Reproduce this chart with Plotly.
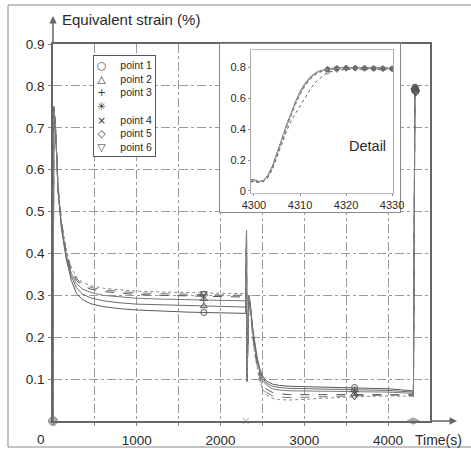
import plotly.graph_objects as go

# ---------------- data ----------------
times = [0, 10, 30, 60, 100, 160, 220, 280, 350, 450, 600, 800, 1000, 1300, 1600, 1800, 2000, 2300,
         2310, 2315, 2340, 2360, 2380, 2410, 2440, 2470, 2500, 2550, 2620, 2700, 2820, 3000, 3300, 3600, 4000, 4300,
         4301, 4302, 4303, 4304, 4305, 4306, 4307, 4308, 4309, 4310, 4311, 4312, 4313, 4314, 4315, 4316,
         4318, 4320, 4322, 4324, 4326, 4328, 4330]

point_1 = [0, 0.75, 0.70, 0.55, 0.46, 0.385, 0.335, 0.305, 0.290, 0.280, 0.273, 0.268, 0.265, 0.262, 0.260, 0.259, 0.258, 0.257,
           0.456, 0.095, 0.300, 0.270, 0.225, 0.180, 0.148, 0.124, 0.108, 0.095, 0.088, 0.085, 0.083, 0.082, 0.081, 0.080, 0.077, 0.072,
           0.062, 0.066, 0.100, 0.160, 0.240, 0.330, 0.420, 0.500, 0.575, 0.640, 0.690, 0.728, 0.755, 0.772, 0.783, 0.789,
           0.795, 0.797, 0.797, 0.796, 0.795, 0.794, 0.793]
point_2 = [0, 0.75, 0.70, 0.55, 0.465, 0.390, 0.345, 0.318, 0.303, 0.294, 0.287, 0.282, 0.279, 0.277, 0.275, 0.274, 0.273, 0.272,
           0.456, 0.095, 0.300, 0.268, 0.222, 0.176, 0.143, 0.119, 0.103, 0.090, 0.083, 0.080, 0.078, 0.077, 0.076, 0.075, 0.073, 0.069,
           0.060, 0.064, 0.095, 0.155, 0.235, 0.325, 0.415, 0.495, 0.570, 0.635, 0.685, 0.724, 0.752, 0.770, 0.781, 0.787,
           0.793, 0.795, 0.795, 0.794, 0.793, 0.792, 0.791]
point_3 = [0, 0.75, 0.70, 0.555, 0.47, 0.395, 0.352, 0.328, 0.315, 0.307, 0.300, 0.296, 0.293, 0.291, 0.289, 0.288, 0.288, 0.287,
           0.456, 0.095, 0.300, 0.266, 0.218, 0.172, 0.138, 0.114, 0.098, 0.085, 0.077, 0.074, 0.072, 0.071, 0.071, 0.070, 0.069, 0.066,
           0.059, 0.063, 0.092, 0.150, 0.230, 0.320, 0.410, 0.490, 0.565, 0.630, 0.680, 0.720, 0.748, 0.767, 0.779, 0.786,
           0.792, 0.794, 0.794, 0.793, 0.792, 0.791, 0.790]
point_4 = [0, 0.75, 0.705, 0.56, 0.475, 0.400, 0.358, 0.336, 0.323, 0.315, 0.309, 0.305, 0.302, 0.300, 0.298, 0.297, 0.297, 0.296,
           0.456, 0.095, 0.300, 0.262, 0.213, 0.165, 0.131, 0.106, 0.090, 0.076, 0.068, 0.065, 0.063, 0.063, 0.063, 0.064, 0.064, 0.063,
           0.058, 0.062, 0.090, 0.148, 0.228, 0.316, 0.405, 0.485, 0.560, 0.625, 0.676, 0.716, 0.745, 0.764, 0.777, 0.784,
           0.790, 0.792, 0.792, 0.791, 0.790, 0.789, 0.788]
point_5 = [0, 0.75, 0.705, 0.56, 0.478, 0.403, 0.362, 0.340, 0.327, 0.319, 0.313, 0.309, 0.306, 0.304, 0.302, 0.301, 0.301, 0.300,
           0.456, 0.095, 0.300, 0.259, 0.209, 0.160, 0.125, 0.100, 0.083, 0.068, 0.060, 0.057, 0.056, 0.057, 0.059, 0.061, 0.062, 0.061,
           0.057, 0.061, 0.088, 0.145, 0.225, 0.312, 0.400, 0.480, 0.555, 0.620, 0.672, 0.712, 0.742, 0.762, 0.775, 0.783,
           0.789, 0.791, 0.791, 0.790, 0.789, 0.788, 0.787]
point_6 = [0, 0.75, 0.71, 0.565, 0.48, 0.405, 0.365, 0.344, 0.331, 0.323, 0.317, 0.313, 0.310, 0.308, 0.306, 0.305, 0.305, 0.304,
           0.456, 0.095, 0.300, 0.256, 0.205, 0.155, 0.120, 0.094, 0.077, 0.062, 0.054, 0.051, 0.050, 0.052, 0.055, 0.058, 0.060, 0.059,
           0.056, 0.060, 0.085, 0.140, 0.215, 0.300, 0.380, 0.450, 0.500, 0.550, 0.600, 0.645, 0.690, 0.720, 0.745, 0.765,
           0.778, 0.785, 0.787, 0.786, 0.785, 0.784, 0.783]

series_values = [point_1, point_2, point_3, point_4, point_5, point_6]
series_names = ["point 1", "point 2", "point 3", "point 4", "point 5", "point 6"]
series_symbols = ["circle-open", "triangle-up-open", "cross-thin-open", "x-thin-open", "diamond-open", "triangle-down-open"]
line_colors = ["#5a5a5a", "#6a6a6a", "#7a7a7a", "#555555", "#777777", "#888888"]
line_dashes = ["solid", "solid", "solid", "dash", "dash", "dot"]
inset_line_colors = ["#444444", "#9a9a9a", "#bbbbbb", "#555555", "#aaaaaa", "#666666"]

main_marker_times = [1800, 3600, 4320, 4330]
inset_marker_times = [4316, 4318, 4320, 4322, 4324, 4326, 4328, 4330]

event_times = [0, 2300, 4300]
event_values = [0, 0, 0]
event_symbols = ["circle", "x-thin-open", "diamond-wide"]

x_tick_vals = [0, 500, 1000, 1500, 2000, 2500, 3000, 3500, 4000]
x_tick_text = ["", "", "1000", "", "2000", "", "3000", "", "4000"]
y_tick_vals = [0, 0.1, 0.2, 0.3, 0.4, 0.5, 0.6, 0.7, 0.8, 0.9]
y_tick_text = ["", "0.1", "0.2", "0.3", "0.4", "0.5", "0.6", "0.7", "0.8", "0.9"]
inset_x_ticks = [4300, 4310, 4320, 4330]
inset_y_ticks = [0, 0.2, 0.4, 0.6, 0.8]
inset_y_text = ["0", "0.2", "0.4", "0.6", "0.8"]

legend_glyphs = ["○", "△", "+", "✳", "×", "◇", "▽"]
legend_labels = ["point 1", "point 2", "point 3", "\u00a0", "point 4", "point 5", "point 6"]

# ---------------- figure ----------------
W, H = 471, 450
ML, MR, MT, MB = 53, 41, 44, 29
PW, PH = W - ML - MR, H - MT - MB


def px_x(p):
    return (p - ML) / PW


def px_y(p):
    return (H - MB - p) / PH


FONT = "Liberation Sans, Arial, sans-serif"
TXT = "#2a2a2a"

fig = go.Figure()

for vals, name, sym, col, dash in zip(series_values, series_names, series_symbols, line_colors, line_dashes):
    fig.add_trace(go.Scatter(x=times, y=vals, mode="lines", name=name, showlegend=False,
                             line=dict(color=col, width=1, dash=dash), hoverinfo="skip"))
    mx = [t for t in times if t in main_marker_times]
    my = [v for t, v in zip(times, vals) if t in main_marker_times]
    fig.add_trace(go.Scatter(x=mx, y=my, mode="markers", showlegend=False, hoverinfo="skip",
                             marker=dict(symbol=sym, size=6, color="#555", line=dict(width=1, color="#555"))))

fig.add_trace(go.Scatter(x=event_times, y=event_values, mode="markers", showlegend=False,
                         cliponaxis=False, hoverinfo="skip",
                         marker=dict(symbol=event_symbols, size=[9, 6, 9], color="#888",
                                     line=dict(width=1, color="#777"))))

# dummy subplot providing the opaque inset frame
fig.add_trace(go.Scatter(x=[None], y=[None], xaxis="x2", yaxis="y2", showlegend=False, hoverinfo="skip"))

# inset (detail) subplot
for vals, sym, dash, icol in zip(series_values, series_symbols, line_dashes, inset_line_colors):
    fig.add_trace(go.Scatter(x=times, y=vals, mode="lines", xaxis="x3", yaxis="y3", showlegend=False,
                             hoverinfo="skip", line=dict(color=icol, width=1, dash="solid" if dash == "solid" else "dot")))
    mx = [t for t in times if t in inset_marker_times]
    my = [v for t, v in zip(times, vals) if t in inset_marker_times]
    fig.add_trace(go.Scatter(x=mx, y=my, mode="markers", xaxis="x3", yaxis="y3", showlegend=False,
                             hoverinfo="skip",
                             marker=dict(symbol=sym, size=4, color="#666", line=dict(width=0.8, color="#666"))))

grid = dict(showgrid=True, gridcolor="#9a9a9a", gridwidth=1, griddash="dashdot")

fig.update_layout(
    width=W, height=H,
    margin=dict(l=ML, r=MR, t=MT, b=MB, autoexpand=False),
    paper_bgcolor="white", plot_bgcolor="white",
    font=dict(family=FONT, color=TXT, size=13.5),
    showlegend=False,
    xaxis=dict(range=[0, 4500], tickvals=x_tick_vals, ticktext=x_tick_text, **grid, automargin=False,
               zeroline=False, showline=True, mirror=True, linecolor="#666", linewidth=1.5,
               ticks="outside", ticklen=3, tickcolor="#888", ticklabelstandoff=3,
               tickfont=dict(size=13.5, color=TXT)),
    yaxis=dict(range=[0, 0.9], tickvals=y_tick_vals, ticktext=y_tick_text, **grid, automargin=False,
               zeroline=False, showline=True, mirror=True, linecolor="#666", linewidth=1.5,
               ticks="outside", ticklen=3, tickcolor="#888", ticklabelstandoff=1,
               tickfont=dict(size=13.5, color=TXT)),
    xaxis2=dict(domain=[px_x(220), px_x(400)], anchor="y2", range=[0, 1], showgrid=False, automargin=False,
                zeroline=False, showticklabels=False, ticks="", showline=True, mirror=True,
                linecolor="#888", linewidth=1),
    yaxis2=dict(domain=[px_y(212), 1.0], anchor="x2", range=[0, 1], showgrid=False, automargin=False,
                zeroline=False, showticklabels=False, ticks="", showline=True, mirror=True,
                linecolor="#888", linewidth=1),
    xaxis3=dict(domain=[px_x(251), px_x(393)], anchor="y3", range=[4299.35, 4330.2], automargin=False,
                tickvals=inset_x_ticks, showgrid=False, zeroline=False, showline=True, mirror=True,
                linecolor="#bbbbbb", linewidth=1, ticks="outside", ticklen=2, tickcolor="#888",
                tickfont=dict(size=11, color=TXT)),
    yaxis3=dict(domain=[px_y(193), px_y(50)], anchor="x3", range=[-0.013, 0.91], automargin=False,
                tickvals=inset_y_ticks, ticktext=inset_y_text, showgrid=False, zeroline=False,
                showline=True, mirror=True, linecolor="#aaaaaa", linewidth=1,
                ticks="outside", ticklen=2, tickcolor="#888", tickfont=dict(size=11, color=TXT)),
)

# outer figure frame
fig.add_shape(type="rect", xref="paper", yref="paper",
              x0=px_x(8), x1=px_x(480), y0=px_y(447), y1=px_y(5),
              line=dict(color="#888", width=1), fillcolor="rgba(0,0,0,0)", layer="below")

ann = []
# axis arrows
ann.append(dict(xref="paper", yref="paper", x=0, y=px_y(16), ax=0, ay=29, text="", showarrow=True,
                arrowhead=2, arrowsize=1, arrowwidth=1.5, arrowcolor="#666"))
ann.append(dict(xref="paper", yref="paper", x=px_x(457), y=0, ax=-28, ay=0, text="", showarrow=True,
                arrowhead=2, arrowsize=1, arrowwidth=1.5, arrowcolor="#666"))
# axis titles
ann.append(dict(xref="paper", yref="paper", x=px_x(60), y=px_y(20), xanchor="left", yanchor="middle",
                text="Equivalent strain (%)", showarrow=False, font=dict(size=15, color=TXT)))
ann.append(dict(xref="paper", yref="paper", x=px_x(438), y=px_y(440), xanchor="center", yanchor="middle",
                text="Time(s)", showarrow=False, font=dict(size=14, color=TXT)))
ann.append(dict(xref="paper", yref="paper", x=px_x(41), y=px_y(440), xanchor="center", yanchor="middle",
                text="0", showarrow=False, font=dict(size=13.5, color=TXT)))
# inset label
ann.append(dict(xref="paper", yref="paper", x=px_x(367), y=px_y(146), xanchor="center", yanchor="middle",
                text="Detail", showarrow=False, font=dict(size=14.5, color=TXT)))
# legend: labels in a bordered white box, glyph column on top
ann.append(dict(xref="paper", yref="paper", x=px_x(124.5), y=px_y(106.5), xanchor="center", yanchor="middle",
                text="<br>".join(legend_labels), showarrow=False, align="right", width=55,
                bgcolor="white", bordercolor="#555", borderwidth=1, borderpad=3,
                font=dict(size=10.5, color=TXT)))
ann.append(dict(xref="paper", yref="paper", x=px_x(101.5), y=px_y(106.5), xanchor="center", yanchor="middle",
                text="<br>".join(legend_glyphs), showarrow=False, align="center",
                font=dict(family="DejaVu Sans", size=10.5, color="#333")))
fig.update_layout(annotations=ann)

fig.write_html("out.html", config={"displayModeBar": False},
               post_script="document.body.style.margin='0px';")
